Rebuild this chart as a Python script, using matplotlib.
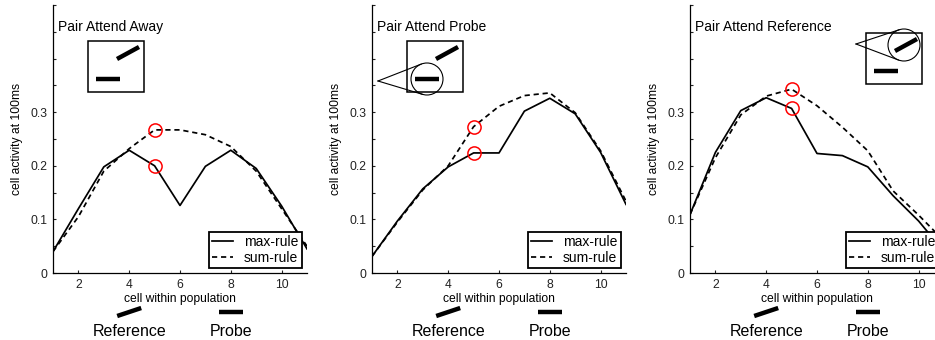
import numpy as np
import matplotlib
matplotlib.use("Agg")
import matplotlib.pyplot as plt
from matplotlib.transforms import Affine2D, ScaledTranslation
from matplotlib.patches import Rectangle, Circle
from matplotlib.lines import Line2D

plt.rcParams['font.family'] = ['Liberation Sans', 'DejaVu Sans']

# values
cells = np.arange(1, 12)
away_max = [0.040, 0.120, 0.198, 0.229, 0.200, 0.126, 0.199, 0.229, 0.195, 0.125, 0.045]
away_sum = [0.040, 0.105, 0.190, 0.232, 0.267, 0.267, 0.258, 0.236, 0.190, 0.120, 0.050]
probe_max = [0.031, 0.097, 0.157, 0.198, 0.224, 0.224, 0.302, 0.326, 0.297, 0.225, 0.128]
probe_sum = [0.031, 0.095, 0.155, 0.200, 0.273, 0.311, 0.331, 0.336, 0.299, 0.228, 0.134]
ref_max = [0.109, 0.225, 0.303, 0.327, 0.307, 0.223, 0.219, 0.198, 0.144, 0.097, 0.040]
ref_sum = [0.109, 0.215, 0.295, 0.330, 0.343, 0.312, 0.272, 0.228, 0.153, 0.108, 0.060]
titles = ['Pair Attend Away', 'Pair Attend Probe', 'Pair Attend Reference']
attended = [None, 'probe', 'ref']
marked = 5
ref_pos, probe_pos = 4, 8
yticks = np.arange(0, 0.501, 0.05)
ylabels = ['0', '', '0.1', '', '0.2', '', '0.3', '', '', '', '']

fig = plt.figure(figsize=(9.35, 3.4), dpi=100)
lefts = [53, 372, 690]
panels = [(away_max, away_sum), (probe_max, probe_sum), (ref_max, ref_sum)]


def pix(ax, x0=1):
    # pixel offsets measured from the data point (x0, 0)
    return Affine2D().scale(0.01) + fig.dpi_scale_trans + ScaledTranslation(x0, 0, ax.transData)


def bar(ax, x0, p, q, lw=3.2):
    ax.add_line(Line2D([p[0], q[0]], [p[1], q[1]], color='black', lw=lw,
                       solid_capstyle='butt', transform=pix(ax, x0), clip_on=False))


def zoom_circle(ax, apex, c, r):
    ax.add_patch(Circle(c, r, fill=False, lw=0.8, ec='black', transform=pix(ax), clip_on=False))
    v = np.array(apex) - np.array(c)
    d = np.hypot(*v)
    a = np.arctan2(v[1], v[0])
    b = np.arccos(r / d)
    for s in (1, -1):
        t = (c[0] + r * np.cos(a + s * b), c[1] + r * np.sin(a + s * b))
        ax.add_line(Line2D([apex[0], t[0]], [apex[1], t[1]], color='black', lw=0.8,
                           transform=pix(ax), clip_on=False))


for i, (mx, sm) in enumerate(panels):
    ax = fig.add_axes([lefts[i] / 935, 67 / 340, 254 / 935, 268 / 340])
    ax.plot(cells, mx, color='black', lw=1.25, label='max-rule')
    ax.plot(cells, sm, color='black', lw=1.25, ls=(0, (3.0, 2.2)), label='sum-rule')
    ax.plot([marked, marked], [mx[marked - 1], sm[marked - 1]], 'o', mfc='none',
            mec='red', ms=9.5, mew=1.1)
    ax.set_xlim(1, 11)
    ax.set_ylim(0, 0.5)
    ax.set_xticks([2, 4, 6, 8, 10])
    ax.set_yticks(yticks)
    ax.set_yticklabels(ylabels)
    ax.tick_params(direction='in', length=2.5, width=0.8, labelsize=8.7, pad=4, colors='#222222')
    for s in ['top', 'right']:
        ax.spines[s].set_visible(False)
    for s in ['left', 'bottom']:
        ax.spines[s].set_linewidth(0.9)
    ax.set_ylabel('cell activity at 100ms', fontsize=8.7, labelpad=5)
    ax.set_xlabel('cell within population', fontsize=8.7, labelpad=1.5)
    leg = ax.legend(loc='lower right', bbox_to_anchor=(0.98, 0.018), fontsize=10,
                    fancybox=False, borderaxespad=0, handlelength=1.5, handletextpad=0.8,
                    borderpad=0.25, labelspacing=0.1, framealpha=1)
    leg.get_frame().set_edgecolor('black')
    leg.get_frame().set_linewidth(1.3)

    ax.text(5, 246, titles[i], fontsize=10, va='center', ha='left', transform=pix(ax))

    # stimulus icon
    if attended[i] == 'ref':
        rx, ry = 176, 189
    else:
        rx, ry = 35, 181
    ax.add_patch(Rectangle((rx, ry), 56, 51, fill=False, lw=1.1, ec='black',
                           transform=pix(ax), clip_on=False))
    bar(ax, 1, (rx + 29, ry + 33), (rx + 51, ry + 45))
    bar(ax, 1, (rx + 8, ry + 13), (rx + 32, ry + 13))
    if attended[i] == 'probe':
        zoom_circle(ax, (6, 192), (rx + 20, ry + 13), 16)
    elif attended[i] == 'ref':
        zoom_circle(ax, (166, 229), (rx + 38, ry + 39), 16)

    # stimuli under the axis
    bar(ax, ref_pos, (-12, -43), (12, -35))
    bar(ax, probe_pos, (-12, -39), (12, -39))
    ax.text(0, -58, 'Reference', fontsize=11.5, ha='center', va='center', transform=pix(ax, ref_pos))
    ax.text(0, -58, 'Probe', fontsize=11.5, ha='center', va='center', transform=pix(ax, probe_pos))

fig.savefig('out.png', dpi=100)
